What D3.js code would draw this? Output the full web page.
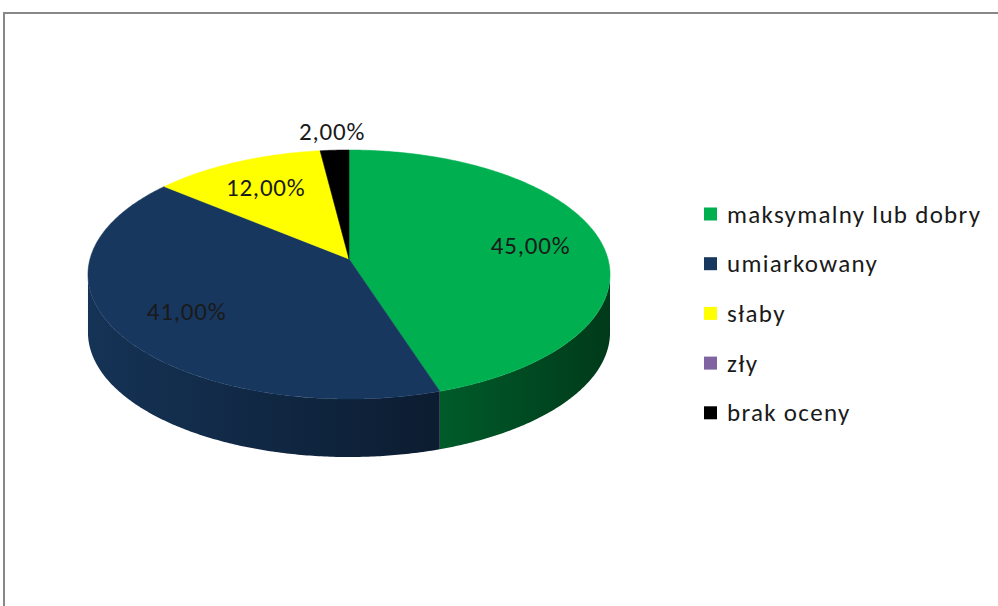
<!DOCTYPE html>
<html>
<head>
<meta charset="utf-8">
<script src="https://cdn.jsdelivr.net/npm/d3@7"></script>
<style>
  html, body { margin: 0; padding: 0; background: #ffffff; }
  svg { display: block; }
  text { font-family: Carlito, Calibri, Lato, "Open Sans", sans-serif; }
</style>
</head>
<body>
<svg id="chart" width="998" height="606"></svg>
<script>
// Ratings and their shares (percent)
const categories = ["maksymalny lub dobry", "umiarkowany", "słaby", "zły", "brak oceny"];
const values = [45, 41, 12, 0, 2];
const colors = ["#00B050", "#17375E", "#FFFF00", "#8064A2", "#000000"];

const svg = d3.select("#chart");
const W = 998, H = 606;

// frame of the chart area
svg.append("rect")
  .attr("x", 4).attr("y", 13)
  .attr("width", W + 20).attr("height", H + 20)
  .attr("fill", "#ffffff")
  .attr("stroke", "#888888")
  .attr("stroke-width", 2);

// 3D pie projection: a tilted disc seen in perspective
const cx = 349, cy = 259;   // projected centre of the disc
const a = 259, b = 122.6;   // horizontal / vertical radii before perspective
const k = 0.1245;           // perspective strength (far edge shrinks)
const depth = 58;           // thickness of the pie

function project(theta, f, dz) {
  const u = f * Math.sin(theta), v = f * Math.cos(theta);
  const w = 1 + k * v;
  return [cx + a * u / w, cy - b * v / w + (dz || 0)];
}

const pie = d3.pie().sort(null).value(d => d.value);
const data = categories.map((c, i) => ({ name: c, value: values[i], color: colors[i] }));
const arcs = pie(data);

// gradient shading of the outer wall, light on the left, dark on the right
const defs = svg.append("defs");
const xLeft = cx - a / Math.sqrt(1 - k * k), xRight = cx + a / Math.sqrt(1 - k * k);
arcs.forEach((d, i) => {
  const base = d3.rgb(d.data.color);
  const g = defs.append("linearGradient")
    .attr("id", "side" + i)
    .attr("gradientUnits", "userSpaceOnUse")
    .attr("x1", xLeft).attr("x2", xRight).attr("y1", 0).attr("y2", 0);
  [[0, 0.92], [0.5, 0.62], [1, 0.33]].forEach(([o, s]) => {
    g.append("stop").attr("offset", o)
      .attr("stop-color", d3.rgb(base.r * s, base.g * s, base.b * s).formatHex());
  });
});

// range of angles whose outer wall faces the viewer
const vis0 = Math.acos(-k), vis1 = 2 * Math.PI - Math.acos(-k);

function arcPoints(t0, t1, f, dz) {
  const n = Math.max(2, Math.ceil((t1 - t0) / 0.01));
  return d3.range(n + 1).map(j => project(t0 + (t1 - t0) * j / n, f, dz));
}

const line = d3.line();

// outer walls
const sides = svg.append("g");
arcs.forEach((d, i) => {
  const t0 = Math.max(d.startAngle, vis0), t1 = Math.min(d.endAngle, vis1);
  if (t1 <= t0) return;
  const top = arcPoints(t0, t1, 1, 0);
  const bot = arcPoints(t0, t1, 1, depth).reverse();
  sides.append("path")
    .attr("d", line(top.concat(bot)) + "Z")
    .attr("fill", `url(#side${i})`);
});

// top faces
const tops = svg.append("g");
arcs.forEach(d => {
  if (d.endAngle - d.startAngle <= 0) return;
  const pts = [project(0, 0, 0)].concat(arcPoints(d.startAngle, d.endAngle, 1, 0));
  tops.append("path")
    .attr("d", line(pts) + "Z")
    .attr("fill", d.data.color)
    .attr("stroke", d.data.color)
    .attr("stroke-width", 0.5);
});

// data labels
const fmt = v => v.toFixed(2).replace(".", ",") + "%";
const labels = svg.append("g");
arcs.forEach(d => {
  if (d.data.value === 0) return;
  const mid = (d.startAngle + d.endAngle) / 2;
  const f = d.data.value < 5 ? 1.2 : 0.72;
  const [x, y] = project(mid, f, 0);
  labels.append("text")
    .attr("x", x).attr("y", y)
    .attr("text-anchor", "middle")
    .attr("dominant-baseline", "central")
    .attr("font-size", 25)
    .attr("letter-spacing", 0.8)
    .attr("fill", "#1a1a1a")
    .text(fmt(d.data.value));
});

// legend
const legend = svg.append("g").attr("transform", "translate(704,214)");
const rowH = 49.7;
data.forEach((d, i) => {
  const g = legend.append("g").attr("transform", `translate(0,${i * rowH})`);
  g.append("rect").attr("x", 0).attr("y", -6.5).attr("width", 13).attr("height", 13)
    .attr("fill", d.color);
  g.append("text").attr("x", 23).attr("y", 0)
    .attr("dominant-baseline", "central")
    .attr("font-size", 25)
    .attr("letter-spacing", 1.3)
    .attr("fill", "#1a1a1a")
    .text(d.name);
});
</script>
</body>
</html>
